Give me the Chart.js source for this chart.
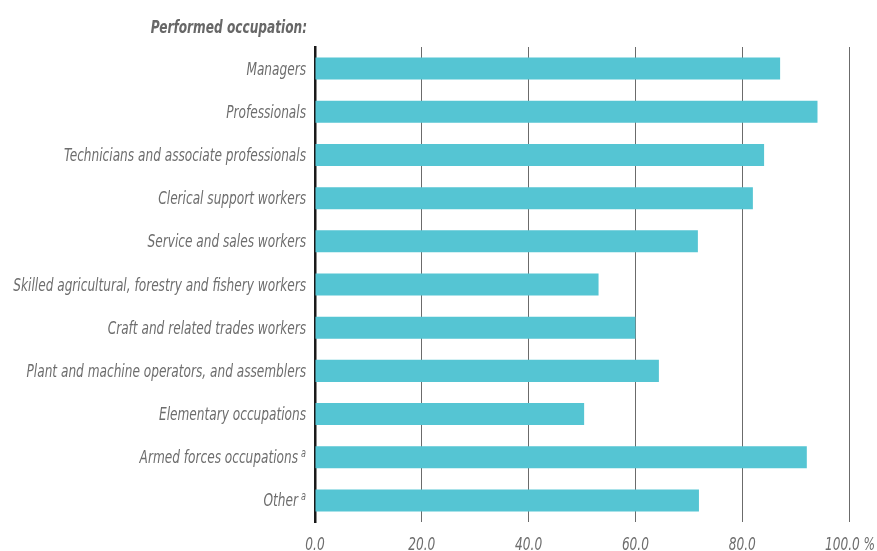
<!DOCTYPE html>
<html>
<head>
<meta charset="utf-8">
<script src="https://cdn.jsdelivr.net/npm/chart.js@4.4.0/dist/chart.umd.min.js"></script>
<style>
  html, body { margin: 0; padding: 0; background: #fff; }
  #wrap { width: 877px; height: 551px; }
</style>
</head>
<body>
<div id="wrap"><canvas id="chart"></canvas></div>
<script>
// occupation groups, top to bottom
const occupations = [
    'Managers',
    'Professionals',
    'Technicians and associate professionals',
    'Clerical support workers',
    'Service and sales workers',
    'Skilled agricultural, forestry and fishery workers',
    'Craft and related trades workers',
    'Plant and machine operators, and assemblers',
    'Elementary occupations',
    'Armed forces occupations',
    'Other',
];

// footnote marks after some of the labels
const notes = ['', '', '', '', '', '', '', '', '', 'a', 'a'];

// share in percent
const shares = [87.1, 94.1, 84.1, 82.0, 71.7, 53.1, 60.0, 64.4, 50.4, 92.1, 71.9];

const xTicks = [0, 20, 40, 60, 80, 100];
const xTickLabels = ['0.0', '20.0', '40.0', '60.0', '80.0', '100.0 %'];

const labelFont = '"DejaVu Sans Condensed", "DejaVu Sans", sans-serif';
const textColor = '#6d6d6d';
const squeeze = 0.75; // narrow the text horizontally

function drawText(ctx, text, x, y, font, align) {
    ctx.save();
    ctx.font = font;
    ctx.textAlign = align;
    ctx.textBaseline = 'alphabetic';
    ctx.translate(x, y);
    ctx.scale(squeeze, 1);
    ctx.fillText(text, 0, 0);
    const w = ctx.measureText(text).width * squeeze;
    ctx.restore();
    return w;
}

// heading, category labels and value labels
const labelsPlugin = {
    id: 'labels',
    afterDraw(chart) {
        const ctx = chart.ctx;
        const xs = chart.scales.x;
        const ys = chart.scales.y;
        ctx.save();
        ctx.fillStyle = '#676767';
        drawText(ctx, 'Performed occupation:', 307, 33, 'italic bold 18px ' + labelFont, 'right');

        ctx.fillStyle = textColor;
        occupations.forEach((name, i) => {
            const y = ys.getPixelForTick(i) + 6;
            let right = 306;
            if (notes[i]) {
                const nw = drawText(ctx, notes[i], right, y - 6, 'italic 12px ' + labelFont, 'right');
                right -= nw + 3;
            }
            drawText(ctx, name, right, y, 'italic 18px ' + labelFont, 'right');
        });

        xTicks.forEach((v, i) => {
            const x = xs.getPixelForValue(v);
            const align = i === xTicks.length - 1 ? 'left' : 'center';
            const dx = i === xTicks.length - 1 ? -24 : 0;
            drawText(ctx, xTickLabels[i], x + dx, 550, 'italic 18px ' + labelFont, align);
        });
        ctx.restore();
    },
};

new Chart(document.getElementById('chart'), {
    type: 'bar',
    data: {
        labels: occupations,
        datasets: [
            {
                data: shares,
                backgroundColor: '#55c5d3',
                borderWidth: 0,
                barPercentage: 0.51,
                categoryPercentage: 1.0,
            },
        ],
    },
    options: {
        indexAxis: 'y',
        responsive: true,
        maintainAspectRatio: false,
        animation: false,
        layout: { padding: { top: 47, right: 28, bottom: 0, left: 0 } },
        plugins: {
            legend: { display: false },
            tooltip: { enabled: false },
        },
        scales: {
            x: {
                min: 0,
                max: 100,
                afterBuildTicks: (scale) => {
                    scale.ticks = xTicks.map((v) => ({ value: v }));
                },
                afterFit: (scale) => {
                    scale.height = 29;
                    scale.paddingLeft = 0;
                    scale.paddingRight = 0;
                },
                grid: {
                    drawTicks: false,
                    color: (c) => (c.tick && c.tick.value === 0 ? 'rgba(0,0,0,0)' : '#6b6b6b'),
                    lineWidth: 1,
                },
                border: { display: false },
                ticks: { display: false },
            },
            y: {
                afterFit: (scale) => {
                    scale.width = 315;
                    scale.paddingTop = 0;
                    scale.paddingBottom = 0;
                },
                grid: { display: false, drawTicks: false },
                border: { display: true, color: '#1a1a1a', width: 2.5 },
                ticks: { display: false },
            },
        },
    },
    plugins: [labelsPlugin],
});
</script>
</body>
</html>
